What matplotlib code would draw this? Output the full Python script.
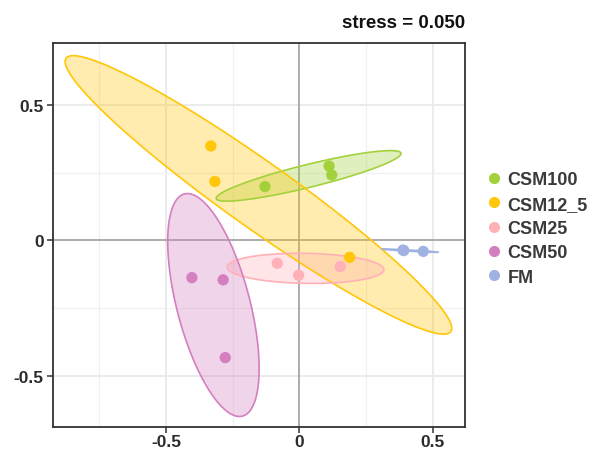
import numpy as np
import matplotlib
matplotlib.use("Agg")
import matplotlib.pyplot as plt
from matplotlib.patches import Polygon
from matplotlib.lines import Line2D

plt.rcParams['font.family'] = ['Liberation Sans', 'DejaVu Sans']

groups = ["CSM100", "CSM12_5", "CSM25", "CSM50", "FM"]
colors = ["#A3D13B", "#FFC60A", "#FFB1B7", "#D47FC0", "#A0B2E2"]
nmds1 = {
    "CSM100": [-0.129, 0.111, 0.121],
    "CSM12_5": [-0.332, -0.317, 0.188],
    "CSM25": [-0.083, -0.003, 0.153],
    "CSM50": [-0.403, -0.286, -0.278],
    "FM": [0.388, 0.391, 0.464],
}
nmds2 = {
    "CSM100": [0.198, 0.274, 0.241],
    "CSM12_5": [0.348, 0.217, -0.063],
    "CSM25": [-0.085, -0.129, -0.097],
    "CSM50": [-0.138, -0.146, -0.433],
    "FM": [-0.036, -0.038, -0.041],
}
stress_text = "stress = 0.050"
xticks = [-0.5, 0, 0.5]
yticks = [-0.5, 0, 0.5]
xtick_labels = ["-0.5", "0", "0.5"]
ytick_labels = ["-0.5", "0", "0.5"]

W, H = 590, 452
fig = plt.figure(figsize=(W / 100, H / 100), dpi=100)
ax = fig.add_axes([52.6 / W, 1 - 427.7 / H, (464.9 - 52.6) / W, (427.7 - 44) / H])
ax.set_xlim(-0.925, 0.620)
ax.set_ylim(-0.688, 0.728)

# grid
for v in [-0.75, -0.25, 0.25]:
    ax.axvline(v, color="#F0F0F0", lw=0.9, zorder=0)
for v in [-0.5, 0.5]:
    ax.axvline(v, color="#EBEBEB", lw=1.4, zorder=0)
for v in [-0.25, 0.25]:
    ax.axhline(v, color="#F0F0F0", lw=0.9, zorder=0)
for v in [-0.5, 0.5]:
    ax.axhline(v, color="#EBEBEB", lw=1.4, zorder=0)
ax.axvline(0, color="#A6A6A6", lw=1.3, zorder=0.5)
ax.axhline(0, color="#A6A6A6", lw=1.3, zorder=0.5)

# ellipses: mean +/- sqrt(chi2_0.95(2)) * sd (sample covariance)
scale = np.sqrt(-2 * np.log(0.05))
t = np.linspace(0, 2 * np.pi, 200)
circle = np.column_stack([np.cos(t), np.sin(t)])
for g, c in zip(groups, colors):
    pts = np.column_stack([nmds1[g], nmds2[g]])
    center = pts.mean(axis=0)
    cov = np.cov(pts.T)
    vals, vecs = np.linalg.eigh(cov)
    vals = np.clip(vals, 1e-9, None)
    ell = center + scale * (circle * np.sqrt(vals)) @ vecs.T
    ax.add_patch(Polygon(ell, closed=True, facecolor=c, alpha=0.33, edgecolor="none", zorder=1))
    ax.add_patch(Polygon(ell, closed=True, facecolor="none", edgecolor=c, lw=1.2, zorder=1.5))

for g, c in zip(groups, colors):
    ax.scatter(nmds1[g], nmds2[g], s=66, color=c, edgecolors="none", zorder=3)

ax.set_xticks(xticks)
ax.set_xticklabels(xtick_labels)
ax.set_yticks(yticks)
ax.set_yticklabels(ytick_labels)
ax.tick_params(axis="both", direction="out", length=4, width=1.1, color="#333333",
               labelsize=12.5, labelcolor="#2b2b2b")
ax.tick_params(axis="x", pad=1.5)
ax.tick_params(axis="y", pad=2.5)
for lab in ax.get_xticklabels() + ax.get_yticklabels():
    lab.set_fontweight("bold")
for sp in ax.spines.values():
    sp.set_color("#333333")
    sp.set_linewidth(1.3)

ax.text(1.0, 1.03, stress_text, transform=ax.transAxes, ha="right", va="bottom",
        fontsize=13.5, fontweight="bold", color="#111111")

handles = [Line2D([0], [0], marker="o", linestyle="none", markersize=8,
                  markerfacecolor=c, markeredgecolor="none") for c in colors]
leg = fig.legend(handles, groups, loc="center left", bbox_to_anchor=(476 / W, 1 - 229.5 / H),
                 frameon=False, fontsize=13, handletextpad=0.15, labelspacing=0.41,
                 handlelength=1.2, borderaxespad=0)
for txt in leg.get_texts():
    txt.set_color("#3a3a3a")
    txt.set_fontweight("bold")

fig.savefig("out.png", dpi=100)
